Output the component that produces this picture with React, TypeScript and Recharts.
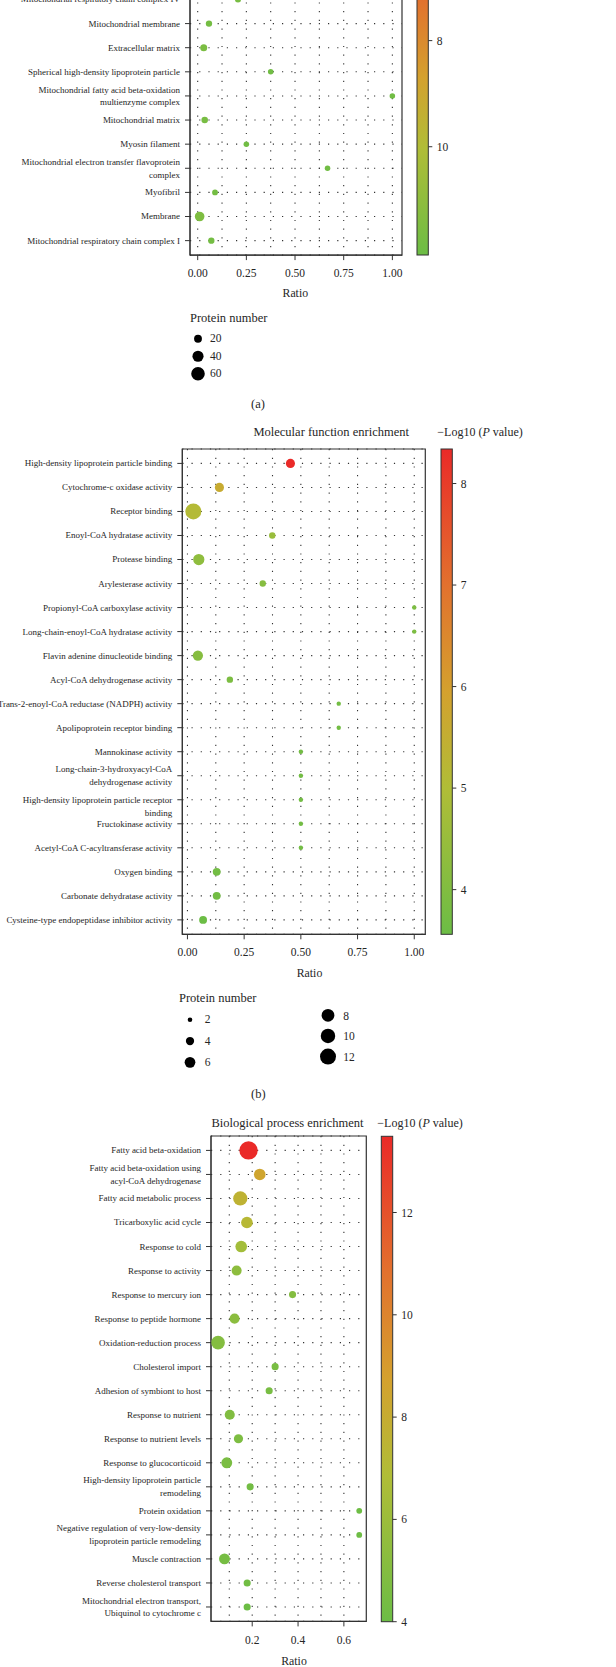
import React from 'react';
import { ScatterChart, Scatter, XAxis, YAxis, ZAxis, CartesianGrid, ReferenceArea, Cell } from 'recharts';

const FONT = '"Liberation Serif", "Times New Roman", "DejaVu Serif", serif';
const INK = '#262626';

// ---------- (a) Cellular component (top part cut off) ----------
const ccTerms = [
  'Mitochondrial respiratory chain complex IV',
  'Mitochondrial membrane',
  'Extracellular matrix',
  'Spherical high-density lipoprotein particle',
  'Mitochondrial fatty acid beta-oxidation\nmultienzyme complex',
  'Mitochondrial matrix',
  'Myosin filament',
  'Mitochondrial electron transfer flavoprotein\ncomplex',
  'Myofibril',
  'Membrane',
  'Mitochondrial respiratory chain complex I',
];
const ccRatio = [0.207, 0.058, 0.031, 0.375, 1.0, 0.036, 0.25, 0.667, 0.089, 0.01, 0.07];
const ccCount = [12, 13, 16, 10, 10, 14, 10, 10, 11, 30, 13];
const ccLogP = [11.7, 11.8, 11.6, 11.9, 11.9, 11.7, 11.9, 11.9, 11.8, 11.5, 11.8];
const ccRatioTicks = [0, 0.25, 0.5, 0.75, 1];
const ccRatioGrid = [0, 0.125, 0.25, 0.375, 0.5, 0.625, 0.75, 0.875, 1];
const ccColorTicks = [8, 10];
const ccColorLimits = [5.35, 12.04]; // top, bottom of the (partly hidden) colour bar
const ccSizeLegend = [20, 40, 60];

// ---------- (b) Molecular function ----------
const mfTerms = [
  'High-density lipoprotein particle binding',
  'Cytochrome-c oxidase activity',
  'Receptor binding',
  'Enoyl-CoA hydratase activity',
  'Protease binding',
  'Arylesterase activity',
  'Propionyl-CoA carboxylase activity',
  'Long-chain-enoyl-CoA hydratase activity',
  'Flavin adenine dinucleotide binding',
  'Acyl-CoA dehydrogenase activity',
  'Trans-2-enoyl-CoA reductase (NADPH) activity',
  'Apolipoprotein receptor binding',
  'Mannokinase activity',
  'Long-chain-3-hydroxyacyl-CoA\ndehydrogenase activity',
  '\nHigh-density lipoprotein particle receptor\nbinding',
  'Fructokinase activity',
  'Acetyl-CoA C-acyltransferase activity',
  'Oxygen binding',
  'Carbonate dehydratase activity',
  'Cysteine-type endopeptidase inhibitor activity',
];
const mfRatio = [0.454, 0.141, 0.026, 0.374, 0.05, 0.332, 1.0, 1.0, 0.046, 0.187, 0.667, 0.667, 0.5, 0.5, 0.5, 0.5, 0.5, 0.129, 0.129, 0.069];
const mfCount = [5, 5, 13, 3, 7, 3, 2, 2, 6, 3, 2, 2, 2, 2, 2, 2, 2, 4, 4, 4];
const mfLogP = [8.34, 5.6, 5.1, 4.5, 4.3, 4.1, 3.9, 3.9, 4.1, 3.9, 3.7, 3.7, 3.7, 3.7, 3.7, 3.7, 3.7, 3.7, 3.7, 3.56];
const mfRatioTicks = [0, 0.25, 0.5, 0.75, 1];
const mfRatioGrid = [0, 0.125, 0.25, 0.375, 0.5, 0.625, 0.75, 0.875, 1];
const mfColorTicks = [4, 5, 6, 7, 8];
const mfSizeLegendA = [2, 4, 6];
const mfSizeLegendB = [8, 10, 12];

// ---------- (c) Biological process ----------
const bpTerms = [
  'Fatty acid beta-oxidation',
  'Fatty acid beta-oxidation using\nacyl-CoA dehydrogenase',
  'Fatty acid metabolic process',
  'Tricarboxylic acid cycle',
  'Response to cold',
  'Response to activity',
  'Response to mercury ion',
  'Response to peptide hormone',
  'Oxidation-reduction process',
  'Cholesterol import',
  'Adhesion of symbiont to host',
  'Response to nutrient',
  'Response to nutrient levels',
  'Response to glucocorticoid',
  'High-density lipoprotein particle\nremodeling',
  'Protein oxidation',
  'Negative regulation of very-low-density\nlipoprotein particle remodeling',
  'Muscle contraction',
  'Reverse cholesterol transport',
  'Mitochondrial electron transport,\nUbiquinol to cytochrome c',
];
const bpRatio = [0.184, 0.233, 0.148, 0.177, 0.152, 0.132, 0.376, 0.123, 0.051, 0.3, 0.274, 0.102, 0.14, 0.089, 0.191, 0.667, 0.667, 0.079, 0.178, 0.178];
const bpCount = [20, 8, 12, 8, 8, 6, 3, 6, 11, 3, 3, 6, 5, 7, 3, 2, 2, 7, 3, 3];
const bpLogP = [13.49, 8.5, 7.6, 7.2, 6.3, 5.4, 5.0, 5.3, 5.0, 4.5, 4.5, 4.9, 4.7, 4.6, 4.3, 4.1, 4.1, 4.4, 4.2, 4.0];
const bpRatioTicks = [0.2, 0.4, 0.6];
const bpRatioGrid = [0.1, 0.2, 0.3, 0.4, 0.5, 0.6];
const bpColorTicks = [4, 6, 8, 10, 12];

// ---------- colour scale ----------
const STOPS: [number, string][] = [
  [0, '#6cbd45'],
  [0.3, '#b0bd37'],
  [0.5, '#d4a12e'],
  [0.72, '#e2712e'],
  [1, '#ea2a28'],
];
function hexToRgb(h: string) {
  return [parseInt(h.slice(1, 3), 16), parseInt(h.slice(3, 5), 16), parseInt(h.slice(5, 7), 16)];
}
function colorAt(t: number) {
  const tt = Math.max(0, Math.min(1, t));
  for (let i = 0; i < STOPS.length - 1; i++) {
    const [t0, c0] = STOPS[i];
    const [t1, c1] = STOPS[i + 1];
    if (tt <= t1) {
      const f = (tt - t0) / (t1 - t0);
      const a = hexToRgb(c0);
      const b = hexToRgb(c1);
      const m = a.map((v, k) => Math.round(v + (b[k] - v) * f));
      return `rgb(${m[0]},${m[1]},${m[2]})`;
    }
  }
  return STOPS[STOPS.length - 1][1];
}
const colorFor = (v: number, vTop: number, vBottom: number) => colorAt((v - vBottom) / (vTop - vBottom));

const mfTop = Math.max(...mfLogP);
const mfBottom = Math.min(...mfLogP);
const bpTop = Math.max(...bpLogP);
const bpBottom = Math.min(...bpLogP);

function padDomain(vals: number[]): [number, number] {
  const lo = Math.min(...vals);
  const hi = Math.max(...vals);
  const e = (hi - lo) * 0.05;
  return [lo - e, hi + e];
}

const YTick = (props: any) => {
  const { x, y, payload, terms } = props;
  const lines = String(terms[payload.value] ?? '').split('\n');
  const fs = 9;
  const L = 12.8;
  return (
    <text x={x} y={y} textAnchor="end" fontSize={fs} fontFamily={FONT} fill={INK}>
      {lines.map((l: string, i: number) => (
        <tspan key={i} x={x} y={y + 0.33 * fs + (i - (lines.length - 1) / 2) * L}>
          {l}
        </tspan>
      ))}
    </text>
  );
};

type PanelProps = {
  terms: string[];
  ratio: number[];
  count: number[];
  logp: number[];
  vTop: number;
  vBottom: number;
  xTicks: number[];
  xGrid: number[];
  digits: number;
  zDomain: [number, number];
  zRange: [number, number];
  plotLeft: number;
  plotRight: number;
  plotTop: number;
  plotBottom: number;
};

function Panel(p: PanelProps) {
  const n = p.terms.length;
  const data = p.terms.map((t, i) => ({ term: t, rank: i, ratio: p.ratio[i], count: p.count[i] }));
  const ranks = p.terms.map((_, i) => i);
  const xDomain = padDomain(p.ratio);
  const mt = 5;
  const xh = 30;
  const height = mt + (p.plotBottom - p.plotTop) + xh;
  return (
    <div style={{ position: 'absolute', left: 0, top: p.plotTop - mt }}>
      <ScatterChart width={616} height={height} margin={{ top: mt, right: 616 - p.plotRight, bottom: 0, left: 0 }}>
        <CartesianGrid horizontal vertical={false} stroke="#333" strokeWidth={1.1} strokeDasharray="1.2 8" />
        <CartesianGrid horizontal={false} vertical stroke="#333" strokeWidth={1.1} strokeDasharray="1.2 7.5" verticalValues={p.xGrid} />
        <XAxis
          type="number"
          dataKey="ratio"
          domain={xDomain}
          ticks={p.xTicks}
          interval={0}
          allowDataOverflow
          height={xh}
          tickSize={5}
          tickMargin={9}
          stroke="#333"
          tickFormatter={(v: number) => v.toFixed(p.digits)}
          tick={{ fill: INK, fontSize: 11.5, fontFamily: FONT }}
        />
        <YAxis
          type="number"
          dataKey="rank"
          domain={[-0.6, n - 0.4]}
          reversed
          ticks={ranks}
          interval={0}
          allowDataOverflow
          width={p.plotLeft}
          tickSize={5}
          tickMargin={5}
          stroke="#333"
          tick={(tp: any) => <YTick {...tp} terms={p.terms} />}
        />
        <ZAxis type="number" dataKey="count" domain={p.zDomain} range={p.zRange} />
        <ReferenceArea x1={xDomain[0]} x2={xDomain[1]} y1={-0.6} y2={n - 0.4} fill="none" stroke="#333" strokeWidth={1.2} ifOverflow="visible" />
        <Scatter data={data} isAnimationActive={false}>
          {data.map((_, i) => (
            <Cell key={i} fill={colorFor(p.logp[i], p.vTop, p.vBottom)} />
          ))}
        </Scatter>
      </ScatterChart>
    </div>
  );
}

function SizeLegend({ values, zDomain, zRange, cx, cy0, spacing }: { values: number[]; zDomain: [number, number]; zRange: [number, number]; cx: number; cy0: number; spacing: number }) {
  const n = values.length;
  const data = values.map((v, i) => ({ x: 0, y: i, z: v }));
  const w = 30;
  return (
    <div style={{ position: 'absolute', left: cx - w / 2, top: cy0 - spacing / 2 }}>
      <ScatterChart width={w} height={n * spacing} margin={{ top: 0, right: 0, bottom: 0, left: 0 }}>
        <XAxis type="number" dataKey="x" domain={[-1, 1]} hide height={0} />
        <YAxis type="number" dataKey="y" domain={[-0.5, n - 0.5]} reversed hide width={0} />
        <ZAxis type="number" dataKey="z" domain={zDomain} range={zRange} />
        <Scatter data={data} fill="#000" isAnimationActive={false} />
      </ScatterChart>
    </div>
  );
}

function ColorBar({ id, x, w, yTop, yBottom, vTop, vBottom, ticks }: { id: string; x: number; w: number; yTop: number; yBottom: number; vTop: number; vBottom: number; ticks: number[] }) {
  const H = yBottom - yTop;
  const yOf = (v: number) => yTop + ((v - vTop) / (vBottom - vTop)) * H;
  const stops = [...STOPS].reverse();
  return (
    <g>
      <defs>
        <linearGradient id={id} x1="0" y1="0" x2="0" y2="1">
          {stops.map(([t, c], i) => (
            <stop key={i} offset={1 - t} stopColor={c} />
          ))}
        </linearGradient>
      </defs>
      <rect x={x} y={yTop} width={w} height={H} fill={`url(#${id})`} stroke="#333" strokeWidth={1} />
      {ticks.map((v) => (
        <g key={v}>
          <line x1={x + w} x2={x + w + 4} y1={yOf(v)} y2={yOf(v)} stroke="#333" strokeWidth={1} />
          <text x={x + w + 8.5} y={yOf(v)} dominantBaseline="central" fontSize={11.5} fontFamily={FONT} fill={INK}>
            {v}
          </text>
        </g>
      ))}
    </g>
  );
}

const T = (props: any) => <text fontFamily={FONT} fill={INK} dominantBaseline="central" {...props} />;

const PTitle = ({ x, y }: { x: number; y: number }) => (
  <T x={x} y={y} fontSize={12}>
    −Log10 (<tspan fontStyle="italic">P</tspan> value)
  </T>
);

const ccZ: [number, number] = [0, 60];
const ccZR: [number, number] = [0, 145.3];
const mfZ: [number, number] = [1.1, 12];
const mfZR: [number, number] = [0, 201];
const bpZ: [number, number] = [0, 20];
const bpZR: [number, number] = [0, 266];

export default function App() {
  return (
    <div style={{ position: 'absolute', left: 0, top: 0, width: 616, height: 1667, overflow: 'hidden', background: '#fff' }}>
      <svg style={{ position: 'absolute', left: 0, top: 0 }} width={616} height={1667}>
        {/* (a) */}
        <ColorBar id="gA" x={417} w={11.3} yTop={-100} yBottom={255} vTop={ccColorLimits[0]} vBottom={ccColorLimits[1]} ticks={ccColorTicks} />
        <T x={295.3} y={293.3} fontSize={11.8} textAnchor="middle">Ratio</T>
        <T x={190} y={318.3} fontSize={12.5}>Protein number</T>
        {ccSizeLegend.map((v, i) => (
          <T key={v} x={210} y={338.3 + i * 17.5} fontSize={11.5}>{v}</T>
        ))}
        <T x={258} y={404} fontSize={12.5} textAnchor="middle">(a)</T>

        {/* (b) */}
        <T x={331.2} y={431.7} fontSize={12.5} textAnchor="middle">Molecular function enrichment</T>
        <PTitle x={437.3} y={431.7} />
        <ColorBar id="gB" x={441} w={11.3} yTop={449} yBottom={934.3} vTop={mfTop} vBottom={mfBottom} ticks={mfColorTicks} />
        <T x={309.5} y={972.7} fontSize={11.8} textAnchor="middle">Ratio</T>
        <T x={179} y={997.7} fontSize={12.5}>Protein number</T>
        {mfSizeLegendA.map((v, i) => (
          <T key={v} x={204.7} y={1019.3 + i * 21.35} fontSize={11.5}>{v}</T>
        ))}
        {mfSizeLegendB.map((v, i) => (
          <T key={v} x={343.3} y={1015.7 + i * 20.65} fontSize={11.5}>{v}</T>
        ))}
        <T x={258.3} y={1094} fontSize={12.5} textAnchor="middle">(b)</T>

        {/* (c) */}
        <T x={287.5} y={1123.3} fontSize={12.5} textAnchor="middle">Biological process enrichment</T>
        <PTitle x={377.3} y={1123.3} />
        <ColorBar id="gC" x={381.3} w={11.4} yTop={1136.3} yBottom={1621.7} vTop={bpTop} vBottom={bpBottom} ticks={bpColorTicks} />
        <T x={294} y={1660.7} fontSize={11.8} textAnchor="middle">Ratio</T>
      </svg>

      <Panel
        terms={ccTerms} ratio={ccRatio} count={ccCount} logp={ccLogP}
        vTop={ccColorLimits[0]} vBottom={ccColorLimits[1]}
        xTicks={ccRatioTicks} xGrid={ccRatioGrid} digits={2}
        zDomain={ccZ} zRange={ccZR}
        plotLeft={190} plotRight={402} plotTop={-15.1} plotBottom={255}
      />
      <SizeLegend values={ccSizeLegend} zDomain={ccZ} zRange={ccZR} cx={197.7} cy0={338.3} spacing={17.5} />

      <Panel
        terms={mfTerms} ratio={mfRatio} count={mfCount} logp={mfLogP}
        vTop={mfTop} vBottom={mfBottom}
        xTicks={mfRatioTicks} xGrid={mfRatioGrid} digits={2}
        zDomain={mfZ} zRange={mfZR}
        plotLeft={182.3} plotRight={425.3} plotTop={449} plotBottom={934.3}
      />
      <SizeLegend values={mfSizeLegendA} zDomain={mfZ} zRange={mfZR} cx={189.7} cy0={1019.3} spacing={21.35} />
      <SizeLegend values={mfSizeLegendB} zDomain={mfZ} zRange={mfZR} cx={327.7} cy0={1015.7} spacing={20.65} />

      <Panel
        terms={bpTerms} ratio={bpRatio} count={bpCount} logp={bpLogP}
        vTop={bpTop} vBottom={bpBottom}
        xTicks={bpRatioTicks} xGrid={bpRatioGrid} digits={1}
        zDomain={bpZ} zRange={bpZR}
        plotLeft={211} plotRight={366.3} plotTop={1136.3} plotBottom={1621.7}
      />
    </div>
  );
}
